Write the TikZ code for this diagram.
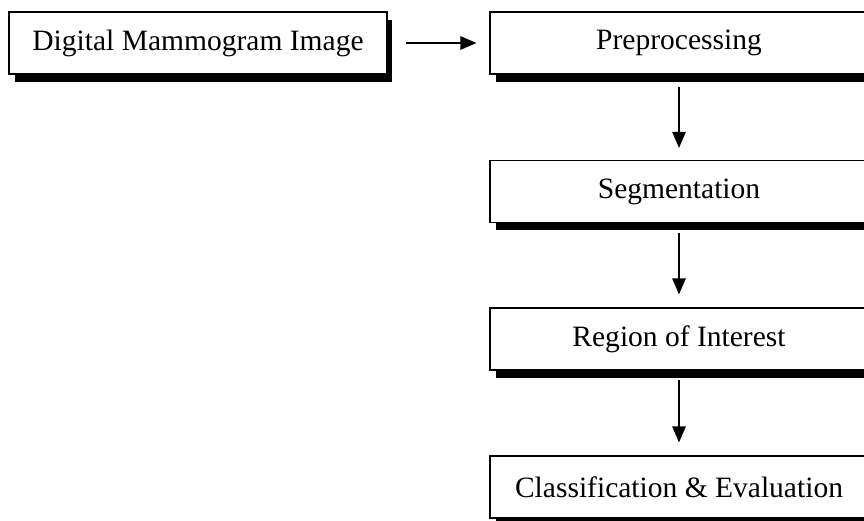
\documentclass[tikz,border=0pt]{standalone}
\usepackage{fontspec}
\setmainfont{Liberation Serif}
\usepackage{tikz}
\usetikzlibrary{arrows.meta}
\usetikzlibrary{shadows}

\begin{document}
\begin{tikzpicture}[x=0.02cm,y=-0.02cm]
\tikzstyle{stage}=[draw,line width=0.7pt,shape=rectangle,fill=white,minimum width=7.56cm,minimum height=1.24cm,font=\fontsize{16.8}{19}\selectfont,drop shadow={shadow xshift=0.11cm,shadow yshift=-0.16cm,fill=black,opacity=1}]
\tikzstyle{flow}=[-{Triangle[length=0.32cm,width=0.27cm]},line width=0.7pt]
\useasboundingbox (0,0) rectangle (864,520);

\node[stage](mammo) at (198,43){Digital Mammogram Image};
\node[stage](prep) at (679,43){Preprocessing};
\node[stage](seg) at (679,191.5){Segmentation};
\node[stage](roi) at (679,339){Region of Interest};
\node[stage](cls) at (679,487){Classification \& Evaluation};
%
\draw[flow,shorten <=0.36cm,shorten >=0.26cm] (mammo) -- (prep);
\draw[flow,shorten <=0.24cm,shorten >=0.24cm] (prep) -- (seg);
\draw[flow,shorten <=0.2cm,shorten >=0.26cm] (seg) -- (roi);
\draw[flow,shorten <=0.18cm,shorten >=0.26cm] (roi) -- (cls);
\end{tikzpicture}
\end{document}
